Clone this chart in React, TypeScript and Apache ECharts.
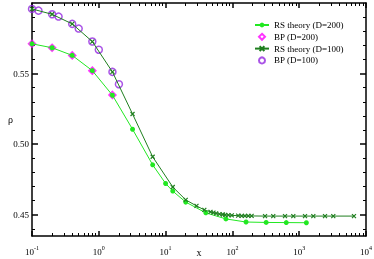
import React, { useEffect, useRef } from "react";
import * as echarts from "echarts";

const rs200X = [0.1, 0.2, 0.4, 0.8, 1.6, 3.2, 6.4, 10, 12.8, 20, 40, 80, 160, 320, 640, 1280];
const rs200Y = [0.5711, 0.5683, 0.5629, 0.5521, 0.5347, 0.5106, 0.4854, 0.4722, 0.4668, 0.459, 0.4514, 0.4471, 0.4449, 0.4446, 0.4445, 0.4444];

const bp200X = [0.1, 0.2, 0.4, 0.8, 1.6];
const bp200Y = [0.5711, 0.5683, 0.5629, 0.5521, 0.5349];

const rs100X = [0.1, 0.2, 0.4, 0.8, 1.6, 3.2, 6.4, 12.8, 20, 29, 38, 47, 52, 57, 64, 72, 78, 87, 98, 122, 138, 154, 173, 194, 308, 409, 613, 816, 1222, 1627, 2434, 3238, 6607];
const rs100Y = [0.5958, 0.592, 0.5852, 0.5727, 0.5512, 0.5214, 0.4911, 0.4697, 0.4606, 0.4563, 0.4535, 0.4521, 0.4515, 0.451, 0.4505, 0.4502, 0.45, 0.4498, 0.4496, 0.4494, 0.4493, 0.4493, 0.4492, 0.4492, 0.4491, 0.4491, 0.4491, 0.4491, 0.4491, 0.4491, 0.4491, 0.4491, 0.4491];

const bp100X = [0.1, 0.125, 0.2, 0.25, 0.4, 0.5, 0.8, 1.0, 1.6, 2.0];
const bp100Y = [0.5958, 0.5946, 0.592, 0.5904, 0.5852, 0.5819, 0.5727, 0.5669, 0.5512, 0.5425];

const seriesNames = ["RS theory (D=200)", "BP (D=200)", "RS theory (D=100)", "BP (D=100)"];

const yMajorTicks = [0.45, 0.5, 0.55];
const yMinorTicks = [0.44, 0.46, 0.47, 0.48, 0.49, 0.51, 0.52, 0.53, 0.54, 0.56, 0.57, 0.58, 0.59];
const xDecades = [-1, 0, 1, 2, 3];
const xMinorMultipliers = [2, 3, 4, 5, 6, 7, 8, 9];

const FONT = "'Liberation Serif', 'Times New Roman', serif";
const DIAMOND = "path://M3,0L6,3L3,6L0,3Z";

const zip = (xs: number[], ys: number[]) => xs.map((x, i) => [x, ys[i]]);

export default function App() {
  const ref = useRef<HTMLDivElement>(null);
  useEffect(() => {
    if (!ref.current) return;
    const chart = echarts.init(ref.current, null, { renderer: "svg" });
    const xMinorLog = xDecades.flatMap((d) => xMinorMultipliers.map((m) => d + Math.log10(m)));
    const lineStyle = { color: "#000", width: 1.5 };
    const grid = { left: 32, right: 8, top: 3, bottom: 23, outerBoundsMode: "none", containLabel: false };
    const minorX = (position: string) => ({
      type: "value",
      position,
      min: -1,
      max: 4,
      axisLine: { show: false, onZero: false },
      axisLabel: { show: false },
      splitLine: { show: false },
      axisTick: { inside: true, length: 3, lineStyle: { color: "#000", width: 1 }, customValues: xMinorLog },
    });
    const minorY = (position: string) => ({
      type: "value",
      position,
      min: 0.435,
      max: 0.6,
      axisLine: { show: false, onZero: false },
      axisLabel: { show: false },
      splitLine: { show: false },
      axisTick: { inside: true, length: 3, lineStyle: { color: "#000", width: 1 }, customValues: yMinorTicks },
    });
    chart.setOption({
      animation: false,
      grid,
      legend: {
        orient: "vertical",
        left: 254,
        top: 20,
        itemWidth: 14,
        itemHeight: 6,
        itemGap: 1.8,
        padding: 0,
        symbolKeepAspect: true,
        data: [
          { name: seriesNames[0] },
          { name: seriesNames[1], icon: DIAMOND },
          { name: seriesNames[2] },
          { name: seriesNames[3] },
        ],
        textStyle: { fontFamily: FONT, fontSize: 9, color: "#000", lineHeight: 10 },
      },
      xAxis: [
        {
          type: "log",
          logBase: 10,
          min: 0.1,
          max: 10000,
          position: "bottom",
          name: "x",
          nameLocation: "middle",
          nameGap: 11,
          nameMoveOverlap: false,
          nameTextStyle: { fontFamily: FONT, fontSize: 10, color: "#000" },
          axisLine: { lineStyle, onZero: false },
          splitLine: { show: false },
          axisTick: { inside: true, length: 5, lineStyle: { color: "#000", width: 1.5 } },
          axisLabel: {
            margin: 9,
            color: "#000",
            formatter: (v: number) => `{b|10}{e|${Math.round(Math.log10(v))}}`,
            rich: {
              b: { fontFamily: FONT, fontSize: 9, color: "#000", verticalAlign: "bottom" },
              e: { fontFamily: FONT, fontSize: 6, color: "#000", verticalAlign: "bottom", padding: [0, 0, 5, 0] },
            },
          },
        },
        minorX("bottom"),
        {
          type: "log",
          logBase: 10,
          min: 0.1,
          max: 10000,
          position: "top",
          axisLine: { lineStyle, onZero: false },
          splitLine: { show: false },
          axisLabel: { show: false },
          axisTick: { inside: true, length: 5, lineStyle: { color: "#000", width: 1.5 } },
        },
        minorX("top"),
      ],
      yAxis: [
        {
          type: "value",
          min: 0.435,
          max: 0.6,
          position: "left",
          name: "ρ",
          nameLocation: "middle",
          nameRotate: 0,
          nameGap: 19,
          nameMoveOverlap: false,
          nameTextStyle: { fontFamily: FONT, fontSize: 10, color: "#000", padding: [0, 0, 6, 0] },
          axisLine: { lineStyle, onZero: false },
          splitLine: { show: false },
          axisTick: { inside: true, length: 6, lineStyle: { color: "#000", width: 1.5 }, customValues: yMajorTicks },
          axisLabel: {
            margin: 3,
            fontFamily: FONT,
            fontSize: 9,
            color: "#000",
            customValues: yMajorTicks,
            formatter: (v: number) => v.toFixed(2),
          },
        },
        minorY("left"),
        {
          type: "value",
          min: 0.435,
          max: 0.6,
          position: "right",
          axisLine: { lineStyle, onZero: false },
          splitLine: { show: false },
          axisLabel: { show: false },
          axisTick: { inside: true, length: 6, lineStyle: { color: "#000", width: 1.5 }, customValues: yMajorTicks },
        },
        minorY("right"),
      ],
      series: [
        {
          name: seriesNames[0],
          type: "line",
          data: zip(rs200X, rs200Y),
          symbol: "circle",
          symbolSize: 5,
          lineStyle: { color: "#22e822", width: 1 },
          itemStyle: { color: "#22e822" },
        },
        {
          name: seriesNames[1],
          type: "scatter",
          data: zip(bp200X, bp200Y),
          symbol: DIAMOND,
          symbolSize: 7,
          symbolKeepAspect: true,
          itemStyle: { color: "rgba(0,0,0,0)", borderColor: "#ff00ff", borderWidth: 1.5 },
        },
        {
          name: seriesNames[2],
          type: "line",
          data: zip(rs100X, rs100Y),
          symbol: "path://M0,0L4,4M4,0L0,4",
          symbolSize: 4,
          lineStyle: { color: "#1f7f1f", width: 1 },
          itemStyle: { color: "#1f7f1f", borderColor: "#1f7f1f", borderWidth: 1.2 },
        },
        {
          name: seriesNames[3],
          type: "scatter",
          data: zip(bp100X, bp100Y),
          symbol: "circle",
          symbolSize: 7,
          itemStyle: { color: "rgba(0,0,0,0)", borderColor: "#9428e0", borderWidth: 1.5 },
        },
      ],
    });
    return () => chart.dispose();
  }, []);
  return <div ref={ref} style={{ position: "fixed", left: 0, top: 0, width: 374, height: 259 }} />;
}
